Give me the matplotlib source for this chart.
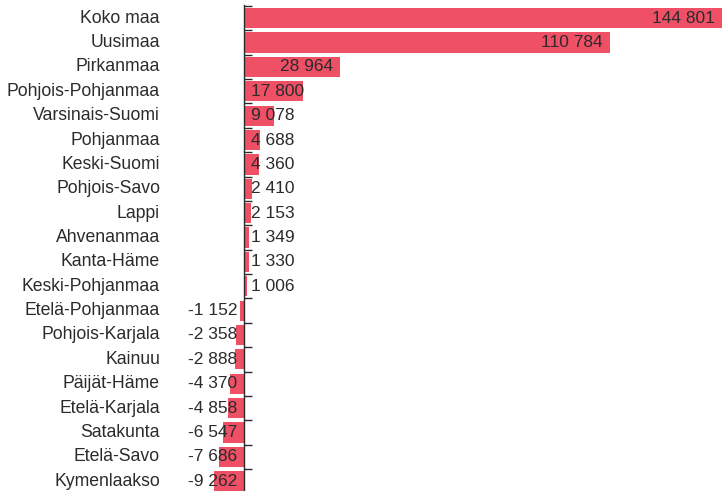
import matplotlib
import matplotlib.pyplot as plt
from matplotlib.transforms import blended_transform_factory, offset_copy

matplotlib.use('Agg')

regions = ["Koko maa", "Uusimaa", "Pirkanmaa", "Pohjois-Pohjanmaa", "Varsinais-Suomi",
           "Pohjanmaa", "Keski-Suomi", "Pohjois-Savo", "Lappi", "Ahvenanmaa",
           "Kanta-Häme", "Keski-Pohjanmaa", "Etelä-Pohjanmaa", "Pohjois-Karjala",
           "Kainuu", "Päijät-Häme", "Etelä-Karjala", "Satakunta", "Etelä-Savo",
           "Kymenlaakso"]
values = [144801, 110784, 28964, 17800, 9078, 4688, 4360, 2410, 2153, 1349,
          1330, 1006, -1152, -2358, -2888, -4370, -4858, -6547, -7686, -9262]

bar_color = '#ef5066'
text_color = '#2b2b2b'
plt.rcParams['font.family'] = ['Liberation Sans', 'DejaVu Sans']


def fmt(v):
    return f"{v:,}".replace(",", " ")


fig = plt.figure(figsize=(7.22, 4.91), dpi=100)
ax = fig.add_axes([160 / 722, -2.4 / 491, 562 / 722, 487.4 / 491])

ypos = list(range(len(regions)))
ax.barh(ypos, values, height=0.83, color=bar_color)
ax.set_xlim(-25500, 144801)
ax.set_ylim(len(regions) - 0.5, -0.5)

for s in ['top', 'right', 'bottom']:
    ax.spines[s].set_visible(False)
ax.spines['left'].set_position(('data', 0))
ax.spines['left'].set_color(text_color)
ax.spines['left'].set_linewidth(1)
ax.spines['left'].set_bounds(len(regions) - 0.5, -0.55)
ax.set_xticks([])
ax.set_yticks([i - 0.5 for i in range(len(regions) + 1)])
ax.tick_params(axis='y', direction='in', length=6, width=1, color=text_color, labelleft=False)

# category names on the far left
trans = blended_transform_factory(ax.transAxes, ax.transData)
for y, name in zip(ypos, regions):
    ax.text(0.0, y, name, transform=trans, ha='right', va='center',
            fontsize=12.7, color=text_color, clip_on=False)

# value labels
fig.canvas.draw()
renderer = fig.canvas.get_renderer()
axis_px = ax.transData.transform((0, 0))[0]
for y, v in zip(ypos, values):
    if v < 0:
        ax.text(0, y, fmt(v), ha='right', va='center', fontsize=12.5, color=text_color,
                transform=offset_copy(ax.transData, fig=fig, x=-7, y=0, units='dots'))
        continue
    t = ax.text(v, y, fmt(v), ha='right', va='center', fontsize=12.5, color=text_color,
                transform=offset_copy(ax.transData, fig=fig, x=-7, y=0, units='dots'))
    bb = t.get_window_extent(renderer)
    if bb.x0 < axis_px + 7:
        t.set_x(0)
        t.set_ha('left')
        t.set_transform(offset_copy(ax.transData, fig=fig, x=7, y=0, units='dots'))

fig.savefig("out.png", dpi=100)
